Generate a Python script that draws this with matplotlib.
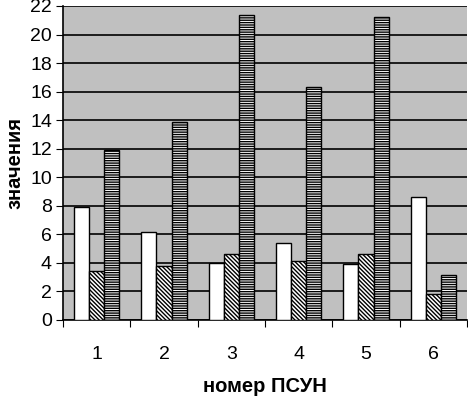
import numpy as np
import matplotlib.pyplot as plt

# data
categories = ['1', '2', '3', '4', '5', '6']
series_a = [7.9, 6.15, 4.0, 5.4, 3.95, 8.6]
series_b = [3.4, 3.8, 4.6, 4.1, 4.6, 1.8]
series_c = [11.9, 13.9, 21.4, 16.3, 21.2, 3.15]

plt.rcParams['font.family'] = ['Liberation Sans', 'DejaVu Sans']
plt.rcParams['hatch.linewidth'] = 1.0

fig = plt.figure(figsize=(4.68, 3.97), dpi=100)
ax = fig.add_axes([63/468, 1 - 320/397, (467 - 63)/468, (320 - 6)/397])
ax.set_facecolor('#c0c0c0')

x = np.arange(len(categories))
w = 0.225
ax.bar(x - w, series_a, w, color='white', edgecolor='black', linewidth=1, zorder=3)
ax.bar(x, series_b, w, color='white', edgecolor='black', linewidth=1, hatch='\\' * 8, zorder=3)
ax.bar(x + w, series_c, w, color='white', edgecolor='black', linewidth=1, hatch='-' * 7, zorder=3)

ax.set_xlim(-0.5, len(categories) - 0.5)
ax.set_ylim(0, 22)
ax.set_yticks(np.arange(0, 23, 2))
ax.yaxis.grid(True, color='black', linewidth=1.2)
ax.set_axisbelow(True)

# category ticks at boundaries, labels centred
ax.set_xticks(np.arange(-0.5, len(categories)), minor=False)
ax.set_xticklabels([])
ax.set_xticks(x, minor=True)
ax.set_xticklabels(categories, minor=True)
ax.tick_params(axis='x', which='minor', length=0, pad=19, labelsize=14)
ax.tick_params(axis='x', which='major', direction='out', length=5)
ax.tick_params(axis='y', direction='out', length=5, labelsize=14, pad=3)

for s in ['top', 'right']:
    ax.spines[s].set_visible(False)
ax.spines['left'].set_linewidth(1.2)
ax.spines['bottom'].set_linewidth(1.2)

ax.set_xlabel('номер ПСУН', fontsize=14.5, fontweight='bold', labelpad=10)
ax.set_ylabel('значения', fontsize=14.5, fontweight='bold', labelpad=4)

fig.savefig('out.png', dpi=100)
